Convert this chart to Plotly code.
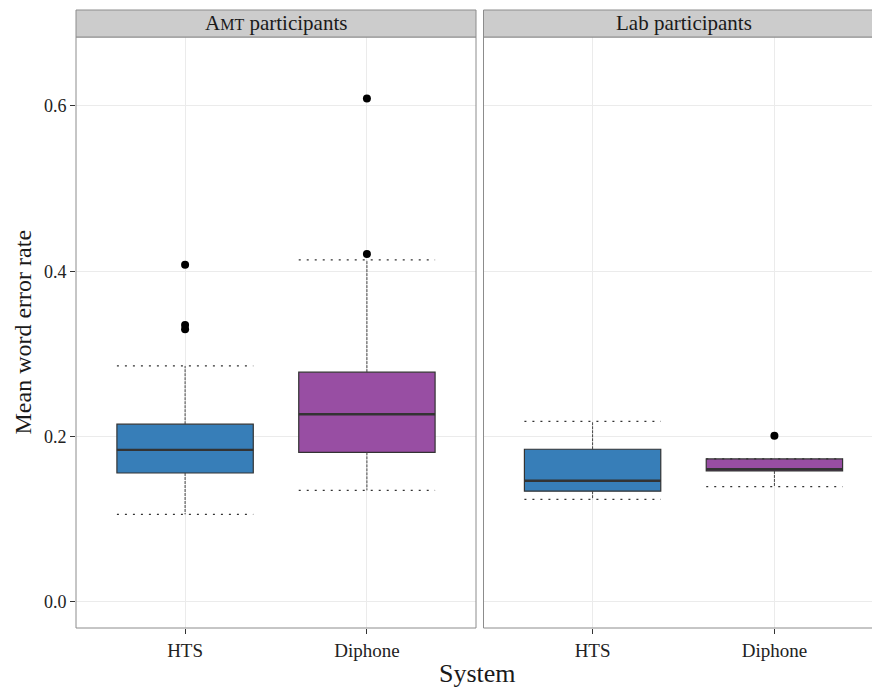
import plotly.graph_objects as go

systems = ["HTS", "Diphone"]
panel_titles = ["A<span style='font-size:16px'>MT</span> participants", "Lab participants"]
colors = ["#377EB8", "#984EA3"]

# AMT participants: [HTS, Diphone]
amt_q1 = [0.156, 0.181]
amt_med = [0.184, 0.227]
amt_q3 = [0.215, 0.278]
amt_lo = [0.106, 0.135]
amt_hi = [0.2855, 0.4137]
amt_out = [[0.408, 0.335, 0.330], [0.609, 0.421]]

# Lab participants: [HTS, Diphone]
lab_q1 = [0.134, 0.1585]
lab_med = [0.1467, 0.1605]
lab_q3 = [0.1847, 0.173]
lab_lo = [0.1242, 0.1395]
lab_hi = [0.2185, 0.173]
lab_out = [[], [0.2012]]

panels = [
    (amt_q1, amt_med, amt_q3, amt_lo, amt_hi, amt_out),
    (lab_q1, lab_med, lab_q3, lab_lo, lab_hi, lab_out),
]

W, H = 872, 688
ML, MR, MT, MB = 76, 0, 37, 60
PW = W - ML - MR
PH = H - MT - MB
unit_px = 400 / 2.2

fig = go.Figure()
BW = 0.75
for p, (q1, med, q3, lo, hi, out) in enumerate(panels):
    xa = "x" if p == 0 else "x2"
    ya = "y" if p == 0 else "y2"
    for i, s in enumerate(systems):
        xpos = i + 1
        # whiskers (vertical)
        fig.add_trace(go.Scatter(x=[xpos, xpos, None, xpos, xpos],
                                 y=[q3[i], hi[i], None, q1[i], lo[i]],
                                 mode="lines", xaxis=xa, yaxis=ya,
                                 line=dict(color="#444444", width=1, dash="3px,1px"),
                                 showlegend=False, hoverinfo="skip"))
        # box
        fig.add_trace(go.Box(x=[xpos], q1=[q1[i]], median=[med[i]], q3=[q3[i]],
                             lowerfence=[q1[i]], upperfence=[q3[i]],
                             width=BW, fillcolor=colors[i],
                             line=dict(color="#333333", width=1.2),
                             xaxis=xa, yaxis=ya, showlegend=False,
                             hoverinfo="skip", boxpoints=False))
        # caps (dotted)
        fig.add_trace(go.Scatter(x=[xpos - BW / 2, xpos + BW / 2, None, xpos - BW / 2, xpos + BW / 2],
                                 y=[hi[i], hi[i], None, lo[i], lo[i]],
                                 mode="lines", xaxis=xa, yaxis=ya,
                                 line=dict(color="#333333", width=1.2, dash="2px,6px"),
                                 showlegend=False, hoverinfo="skip"))
        # median (thicker)
        fig.add_trace(go.Scatter(x=[xpos - BW / 2, xpos + BW / 2], y=[med[i], med[i]],
                                 mode="lines", xaxis=xa, yaxis=ya,
                                 line=dict(color="#333333", width=2.4),
                                 showlegend=False, hoverinfo="skip"))
        # outliers
        if out[i]:
            fig.add_trace(go.Scatter(x=[xpos] * len(out[i]), y=out[i], mode="markers",
                                     xaxis=xa, yaxis=ya,
                                     marker=dict(color="black", size=8),
                                     showlegend=False, hoverinfo="skip"))

right_left_px = 483.5
x2_dom0 = (right_left_px - ML) / PW
x2_range_hi = 0.4 + (W - right_left_px) / unit_px

font_family = "Liberation Serif, Times New Roman, serif"
xtickfont = dict(family=font_family, size=19, color="#222222")
ytickfont = dict(family=font_family, size=18, color="#222222")
common_x = dict(tickvals=[1, 2], ticktext=systems, showgrid=True, gridcolor="#ebebeb",
                gridwidth=1, zeroline=False, ticks="outside", ticklen=5, tickcolor="#333333",
                tickfont=xtickfont, showline=False, fixedrange=True)
common_y = dict(range=[-0.0315, 0.6834], tickvals=[0, 0.2, 0.4, 0.6],
                ticktext=["0.0", "0.2", "0.4", "0.6"], showgrid=True, gridcolor="#ebebeb",
                gridwidth=1, zeroline=False, showline=False, fixedrange=True)

fig.update_layout(
    width=W, height=H,
    margin=dict(l=ML, r=MR, t=MT, b=MB),
    plot_bgcolor="white", paper_bgcolor="white",
    xaxis=dict(domain=[0, 400 / PW], range=[0.4, 2.6], anchor="y", **common_x),
    xaxis2=dict(domain=[x2_dom0, 1], range=[0.4, x2_range_hi], anchor="y2", **common_x),
    yaxis=dict(domain=[0, 1], anchor="x", ticks="outside", ticklen=5, tickcolor="#333333",
               tickfont=ytickfont, **common_y),
    yaxis2=dict(domain=[0, 1], anchor="x2", showticklabels=False, ticks="", **common_y),
    font=dict(family=font_family, color="#222222"),
)

strip_top = 1 + 27 / PH
border = "#8c8c8c"
shapes = []
# left panel border + strip
shapes.append(dict(type="rect", xref="x domain", yref="paper", x0=0, x1=1, y0=0, y1=1,
                   line=dict(color=border, width=1), fillcolor="rgba(0,0,0,0)", layer="above"))
shapes.append(dict(type="rect", xref="x domain", yref="paper", x0=0, x1=1, y0=1, y1=strip_top,
                   line=dict(color=border, width=1), fillcolor="#cccccc", layer="above"))
# right panel border (right side cropped) + strip
for (a, b, c, d) in [(0, 0, 0, 1), (0, 1, 1, 1), (0, 0, 1, 0)]:
    shapes.append(dict(type="line", xref="x2 domain", yref="paper", x0=a, x1=c, y0=b, y1=d,
                       line=dict(color=border, width=1), layer="above"))
shapes.append(dict(type="rect", xref="x2 domain", yref="paper", x0=0, x1=1.02, y0=1, y1=strip_top,
                   line=dict(color=border, width=1), fillcolor="#cccccc", layer="above"))
fig.update_layout(shapes=shapes)

annotations = []
for p, t in enumerate(panel_titles):
    # center of full (uncropped) panel
    if p == 0:
        cx = 0.5
        xr = "x domain"
    else:
        full_w = 2.2 * unit_px
        vis_w = W - right_left_px
        cx = (full_w / 2) / vis_w
        xr = "x2 domain"
    annotations.append(dict(text=t, xref=xr, yref="paper", x=cx, y=(1 + strip_top) / 2,
                            xanchor="center", yanchor="middle", showarrow=False,
                            font=dict(family=font_family, size=21, color="#1a1a1a")))
annotations.append(dict(text="System", xref="paper", yref="paper",
                        x=(477 - ML) / PW, y=-(673 - (H - MB)) / PH,
                        xanchor="center", yanchor="middle", showarrow=False,
                        font=dict(family=font_family, size=26, color="#1a1a1a")))
annotations.append(dict(text="Mean word error rate", xref="paper", yref="paper",
                        x=(22 - ML) / PW, y=0.5, textangle=-90,
                        xanchor="center", yanchor="middle", showarrow=False,
                        font=dict(family=font_family, size=24, color="#1a1a1a")))
fig.update_layout(annotations=annotations)

fig.write_html("out.html")
